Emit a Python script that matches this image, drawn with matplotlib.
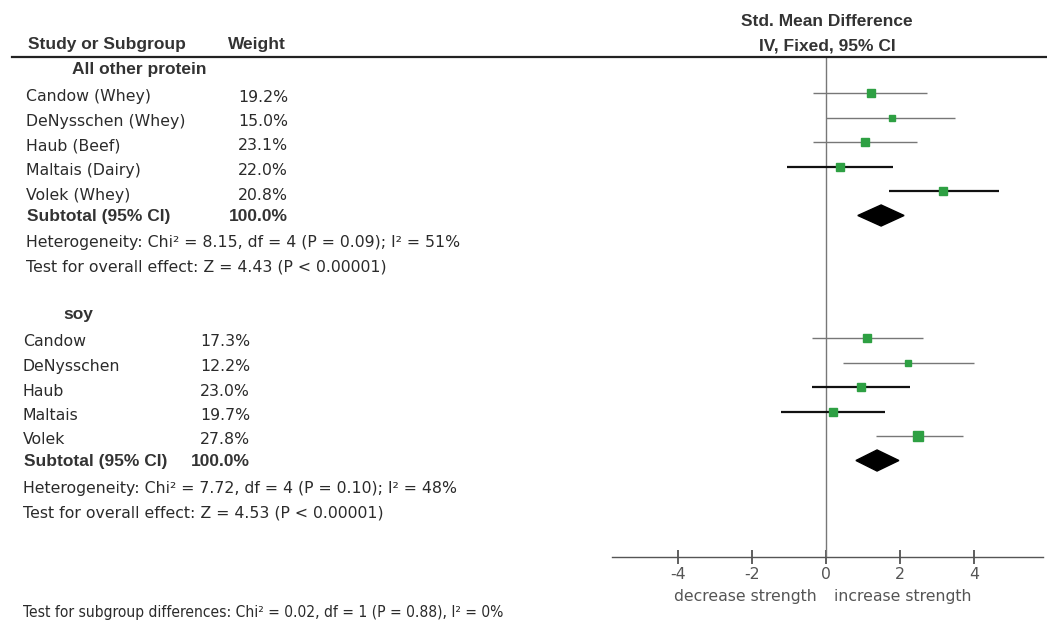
import matplotlib
matplotlib.use("Agg")
import matplotlib.pyplot as plt
from matplotlib.patches import Polygon
from matplotlib.lines import Line2D
from matplotlib import font_manager

plt.rcParams['font.family'] = ['DejaVu Sans']

# ---------------- data ----------------
group_names = ["All other protein", "soy"]
studies_1 = ["Candow (Whey)", "DeNysschen (Whey)", "Haub (Beef)", "Maltais (Dairy)", "Volek (Whey)"]
weights_1 = [19.2, 15.0, 23.1, 22.0, 20.8]
smd_1 = [1.22, 1.78, 1.05, 0.38, 3.16]
lo_1 = [-0.35, 0.00, -0.35, -1.05, 1.70]
hi_1 = [2.73, 3.49, 2.46, 1.81, 4.68]
sub_1 = (1.49, 0.86, 2.11)
het_1 = "Heterogeneity: Chi\u00b2 = 8.15, df = 4 (P = 0.09); I\u00b2 = 51%"
eff_1 = "Test for overall effect: Z = 4.43 (P < 0.00001)"

studies_2 = ["Candow", "DeNysschen", "Haub", "Maltais", "Volek"]
weights_2 = [17.3, 12.2, 23.0, 19.7, 27.8]
smd_2 = [1.11, 2.21, 0.94, 0.19, 2.49]
lo_2 = [-0.38, 0.46, -0.38, -1.22, 1.35]
hi_2 = [2.62, 4.00, 2.27, 1.59, 3.70]
sub_2 = (1.38, 0.81, 1.97)
het_2 = "Heterogeneity: Chi\u00b2 = 7.72, df = 4 (P = 0.10); I\u00b2 = 48%"
eff_2 = "Test for overall effect: Z = 4.53 (P < 0.00001)"

subtotal_weight = "100.0%"
subgroup_test = "Test for subgroup differences: Chi\u00b2 = 0.02, df = 1 (P = 0.88), I\u00b2 = 0%"
xticks = [-4, -2, 0, 2, 4]
left_label = "decrease strength"
right_label = "increase strength"

# line styles per study (as rendered in the reference)
line_dark_1 = [False, False, False, True, True]
line_dark_2 = [False, False, True, True, False]

# ---------------- layout ----------------
W, H = 1047, 625
fig = plt.figure(figsize=(W / 100, H / 100), dpi=100)
ROW = 24.5          # pixels per row
Y0 = 93             # pixel y of first study row
TXT = "#2b2b2b"
BOLDC = "#333333"
GREEN = "#2ea043"
FS = 11.3
BFS = 12.5
BOLD = dict(fontsize=BFS, fontweight="bold", family="Liberation Sans", color=BOLDC, va="center")
REG = dict(fontsize=FS, color=TXT, va="center")

has_cond = any(f.name == "DejaVu Sans" and f.stretch == "condensed" and f.weight in (400, "normal")
               for f in font_manager.fontManager.ttflist)
if has_cond:
    BOTTOM = dict(fontsize=11.2, fontstretch="condensed", color=TXT, va="center")
else:
    BOTTOM = dict(fontsize=10.2, color=TXT, va="center")

def fx(x):
    return x / W

def fy(y):
    return 1 - y / H

def row_px(r):
    return Y0 + r * ROW

ax_top, ax_bot = 58, 557
ax_l, ax_r = 612, 1043
ax = fig.add_axes([fx(ax_l), fy(ax_bot), (ax_r - ax_l) / W, (ax_bot - ax_top) / H])
ax.set_xlim((ax_l - 826) / 37.0, (ax_r - 826) / 37.0)
ax.set_ylim((ax_bot - Y0) / ROW, (ax_top - Y0) / ROW)
for s in ["left", "right", "top"]:
    ax.spines[s].set_visible(False)
ax.spines["bottom"].set_color("#555555")
ax.spines["bottom"].set_linewidth(1.0)
ax.set_yticks([])
ax.set_xticks(xticks)
ax.set_xticklabels([str(t) for t in xticks])
ax.tick_params(axis="x", direction="inout", length=10, width=1.2, color="#444444",
               labelsize=FS, labelcolor="#555555", pad=2)
ax.axvline(0, color="#777777", lw=1.0)
ax.patch.set_alpha(0)

def draw_group(start_row, smd, lo, hi, weights, dark, sub):
    for i in range(len(smd)):
        r = start_row + i
        col = "#111111" if dark[i] else "#777777"
        lw = 1.6 if dark[i] else 1.0
        ax.plot([lo[i], hi[i]], [r, r], color=col, lw=lw, solid_capstyle="butt", zorder=2)
        size_px = 2 + 0.3 * weights[i]
        ax.plot([smd[i]], [r], marker="s", ms=size_px * 0.72, color=GREEN,
                mec=GREEN, zorder=3, linestyle="none")
    mid, l, h = sub
    r = start_row + len(smd)
    hh = 0.43
    ax.add_patch(Polygon([[l, r], [mid, r - hh], [h, r], [mid, r + hh]],
                         closed=True, color="black", zorder=3))

draw_group(0, smd_1, lo_1, hi_1, weights_1, line_dark_1, sub_1)
draw_group(10, smd_2, lo_2, hi_2, weights_2, line_dark_2, sub_2)

# ---------------- header ----------------
fig.add_artist(Line2D([fx(12), 1.0], [fy(57), fy(57)], color="#222222", lw=1.6))
fig.text(fx(28), fy(45), "Study or Subgroup", **BOLD)
fig.text(fx(228), fy(45), "Weight", **BOLD)
fig.text(fx(827), fy(21), "Std. Mean Difference", ha="center", **BOLD)
fig.text(fx(827), fy(46), "IV, Fixed, 95% CI", ha="center", **BOLD)

# ---------------- left table ----------------
def draw_table(start_row, title, title_x, names, weights, name_x, w_x, het, eff):
    off = 4
    fig.text(fx(title_x), fy(row_px(start_row - 1) + 1), title, **BOLD)
    for i, (n, w) in enumerate(zip(names, weights)):
        y = row_px(start_row + i) + off
        fig.text(fx(name_x), fy(y), n, **REG)
        fig.text(fx(w_x), fy(y), f"{w:.1f}%", ha="right", **REG)
    y = row_px(start_row + len(names)) + 1
    fig.text(fx(name_x + 1), fy(y), "Subtotal (95% CI)", **BOLD)
    fig.text(fx(w_x), fy(y), subtotal_weight, ha="right", **BOLD)
    fig.text(fx(name_x), fy(row_px(start_row + len(names) + 1) + 3), het, **REG)
    fig.text(fx(name_x), fy(row_px(start_row + len(names) + 2) + 3), eff, **REG)

draw_table(0, group_names[0], 72, studies_1, weights_1, 26, 288, het_1, eff_1)
draw_table(10, group_names[1], 63, studies_2, weights_2, 23, 250, het_2, eff_2)

fig.text(fx(23), fy(612), subgroup_test, **BOTTOM)
fig.text(fx(817), fy(596), left_label, fontsize=FS, color="#555555", va="center", ha="right")
fig.text(fx(834), fy(596), right_label, fontsize=FS, color="#555555", va="center", ha="left")

fig.savefig("out.png", dpi=100, facecolor="white")
